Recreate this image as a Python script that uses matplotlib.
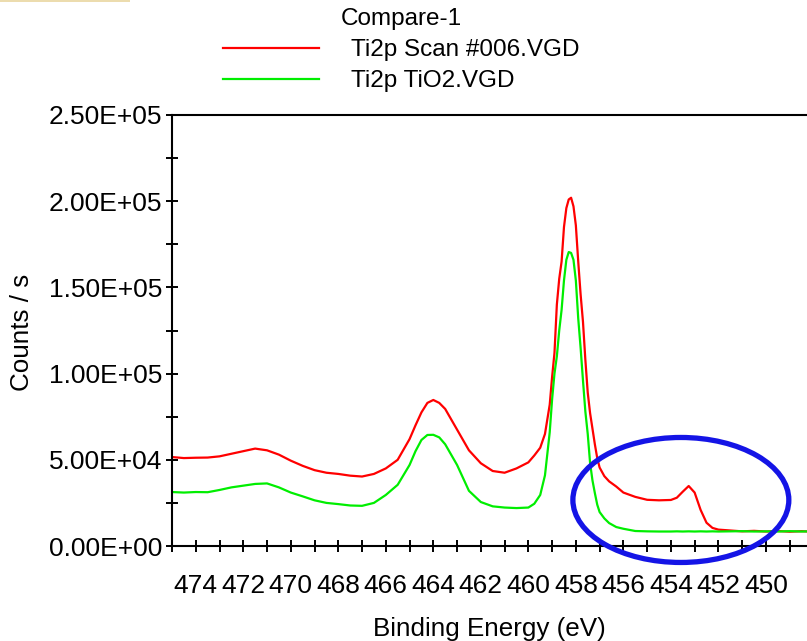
import matplotlib
matplotlib.use("Agg")
import matplotlib.pyplot as plt
from matplotlib.patches import Ellipse, Rectangle
from matplotlib.ticker import MultipleLocator, FuncFormatter

plt.rcParams['font.family'] = ['Liberation Sans', 'DejaVu Sans']

# Binding energy grid (eV), denser across the peaks
energy = [475.0, 474.5, 474.0, 473.5, 473.0, 472.5, 472.0, 471.5, 471.0, 470.5,
          470.0, 469.5, 469.0, 468.5, 468.0, 467.5, 467.0, 466.5, 466.0, 465.5,
          465.0, 464.75, 464.5, 464.25, 464.0, 463.75, 463.5, 463.0, 462.5, 462.0,
          461.5, 461.0, 460.5, 460.0, 459.75, 459.5, 459.3, 459.1, 459.0, 458.9,
          458.8, 458.7, 458.6, 458.5, 458.4, 458.3, 458.2, 458.1, 458.0, 457.9,
          457.8, 457.7, 457.6, 457.5, 457.4, 457.3, 457.2, 457.1, 457.0, 456.8,
          456.6, 456.3, 456.0, 455.5, 455.0, 454.5, 454.0, 453.75, 453.5, 453.25,
          453.0, 452.75, 452.5, 452.25, 452.0, 451.5, 451.0, 450.5, 450.0, 449.5,
          449.0, 448.5, 448.2]

# Ti2p Scan #006.VGD (counts / s)
scan006 = [51600, 51000, 51200, 51300, 52000, 53500, 55000, 56500, 55500, 53000,
           49500, 46500, 44000, 42500, 41800, 40800, 40300, 41800, 45000, 50000,
           62000, 70000, 77500, 83000, 84700, 83000, 79500, 67500, 55500, 48000,
           43500, 42500, 45000, 48500, 52500, 57000, 65000, 82000, 98000, 112000,
           140000, 155000, 165000, 185000, 196000, 201000, 202000, 197000, 186000, 165000,
           146000, 130000, 108000, 89000, 77000, 68000, 59000, 51000, 45500, 40500,
           37500, 34500, 31000, 28500, 26800, 26500, 26700, 28000, 31500, 34800,
           31000, 21000, 13500, 10500, 9500, 9000, 8500, 8800, 8400, 8700,
           8300, 8600, 8400]

# Ti2p TiO2.VGD (counts / s)
tio2 = [31300, 31000, 31300, 31200, 32500, 34000, 35000, 36000, 36300, 34000,
        31000, 28800, 26500, 25000, 24300, 23500, 23300, 25000, 29600, 35500,
        47000, 55000, 61500, 64400, 64500, 63000, 59000, 47000, 32000, 25500,
        23000, 22300, 22000, 22300, 24500, 29600, 41000, 66000, 85000, 100000,
        110000, 125000, 137000, 154000, 166000, 170500, 170000, 166000, 154000, 132000,
        115000, 96000, 78000, 65000, 48000, 38000, 30700, 24000, 19700, 16000,
        13300, 11000, 10000, 8700, 8500, 8400, 8400, 8500, 8400, 8500,
        8400, 8500, 8400, 8500, 8400, 8500, 8600, 8400, 8500, 8400,
        8600, 8400, 8500]

series_names = ["Ti2p Scan #006.VGD", "Ti2p TiO2.VGD"]
legend_title = "Compare-1"

W, H = 807, 641
fig = plt.figure(figsize=(W / 100, H / 100), dpi=100)
ax = fig.add_axes([172 / W, (H - 546) / H, (W - 172) / W, (546 - 115) / H])

ax.plot(energy, scan006, color='#ff0000', lw=1.6, label=series_names[0])
ax.plot(energy, tio2, color='#00ee00', lw=1.6, label=series_names[1])

ax.set_xlim(475.0, 448.27)
ax.set_ylim(0, 250000)

ax.xaxis.set_major_locator(MultipleLocator(2))
ax.xaxis.set_minor_locator(MultipleLocator(1))
ax.yaxis.set_major_locator(MultipleLocator(50000))
ax.yaxis.set_minor_locator(MultipleLocator(25000))
ax.yaxis.set_major_formatter(FuncFormatter(lambda v, p: "%.2E" % v))
ax.xaxis.set_major_formatter(FuncFormatter(lambda v, p: "%d" % round(v)))

for which in ('major', 'minor'):
    ax.tick_params(axis='both', which=which, direction='inout', length=8.5,
                   width=1.4, color='black')
ax.tick_params(axis='x', which='major', labelsize=19, pad=16)
ax.tick_params(axis='y', which='major', labelsize=19, pad=3)

for side in ('left', 'top', 'bottom'):
    ax.spines[side].set_linewidth(1.5)
ax.spines['right'].set_visible(False)

ax.set_xlabel("Binding Energy (eV)", fontsize=18.7)
ax.set_ylabel("Counts / s", fontsize=18.7)
ax.xaxis.set_label_coords(0.5, (546 - 629) / 431)
ax.xaxis.label.set_va('center')
ax.yaxis.set_label_coords((22 - 172) / 635, (546 - 332) / 431)
ax.yaxis.label.set_va('center')

# Highlight around the low-energy shoulder
ax.add_patch(Ellipse((453.58, 26700), 9.09, 72500, fill=False,
                     edgecolor='#1414e6', lw=3.8, clip_on=False, zorder=5))

leg = fig.legend(loc='upper left', bbox_to_anchor=(223 / W, 1 - 8 / H),
                 frameon=False, fontsize=17.5, title=legend_title,
                 title_fontsize=17.5, handlelength=3.95, handletextpad=1.3,
                 labelspacing=0.38, borderpad=0, borderaxespad=0)

# thin tan strip along the top-left edge
fig.add_artist(Rectangle((0, 1 - 2 / H), 130 / W, 2 / H, transform=fig.transFigure,
                         facecolor='#ecdcae', edgecolor='none'))

fig.savefig("out.png", dpi=100)
